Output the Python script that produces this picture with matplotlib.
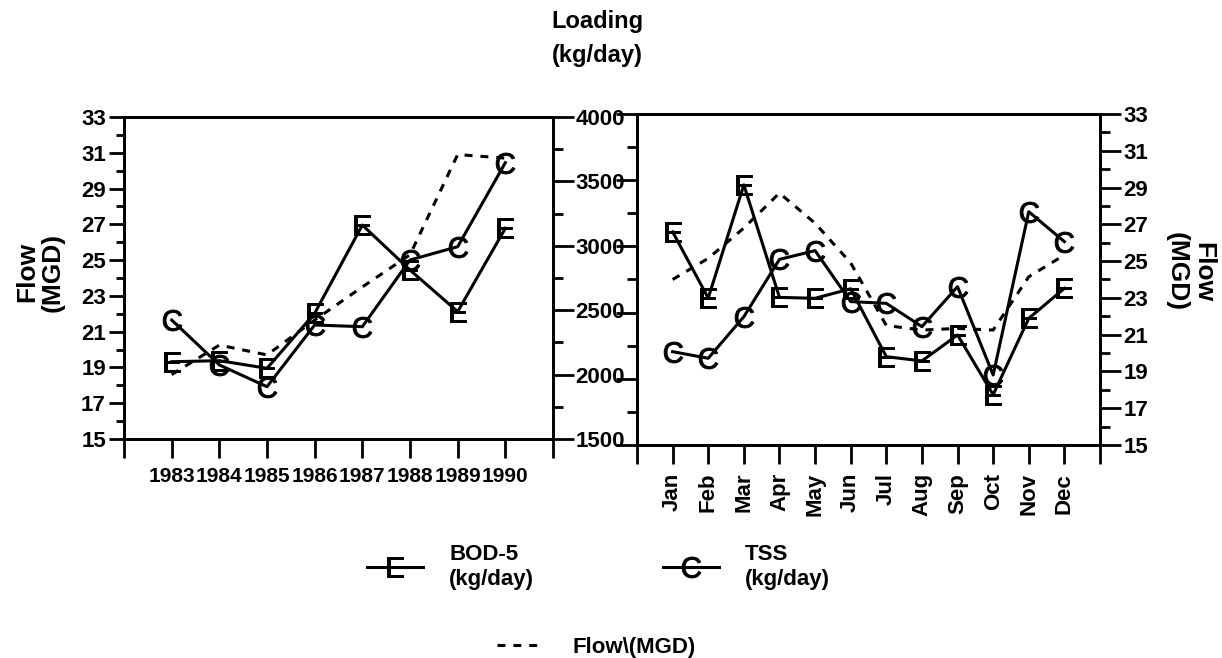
import numpy as np
import matplotlib
matplotlib.use('Agg')
import matplotlib.pyplot as plt
from matplotlib.ticker import MultipleLocator, FixedLocator, NullFormatter

plt.rcParams['font.family'] = ['Liberation Sans', 'DejaVu Sans']
plt.rcParams['font.weight'] = 'bold'
# thin letters for the E / C point markers
plt.rcParams['mathtext.fontset'] = 'custom'
plt.rcParams['mathtext.sf'] = 'Liberation Sans:weight=normal'

# yearly averages
years = [1983, 1984, 1985, 1986, 1987, 1988, 1989, 1990]
year_bod = [2100, 2108, 2049, 2476, 3161, 2812, 2489, 3136]     # kg/day
year_tss = [2424, 2075, 1906, 2385, 2372, 2890, 2993, 3645]     # kg/day
year_flow = [18.6, 20.25, 19.7, 21.65, 23.5, 25.3, 30.9, 30.7]  # MGD

# monthly averages
months = ['Jan', 'Feb', 'Mar', 'Apr', 'May', 'Jun',
          'Jul', 'Aug', 'Sep', 'Oct', 'Nov', 'Dec']
month_bod = [3110, 2610, 3465, 2615, 2608, 2680, 2167, 2135, 2331, 1880, 2457, 2683]
month_tss = [2205, 2155, 2469, 2902, 2968, 2583, 2570, 2394, 2696, 2029, 3262, 3036]
month_flow = [24.0, 25.15, 26.8, 28.7, 27.06, 24.9, 21.5, 21.25, 21.34, 21.25, 24.15, 25.33]

flow_lim = (15, 33)
load_lim = (1500, 4000)

lw = 2.2
dash = (0, (2.6, 2.6))
mk_e = r'$\mathsf{E}$'
mk_c = r'$\mathsf{C}$'
ms = 15
mew = 0.7
fs = 16

fig = plt.figure(figsize=(12.22, 6.58), dpi=100)

# ---- left panel: years ----
ax1 = fig.add_axes([124/1222, 1 - 439/658, 429/1222, 322/658])
ax1b = ax1.twinx()

ax1.plot(years, year_flow, color='black', lw=lw, ls=dash)
bod_line, = ax1b.plot(years, year_bod, color='black', lw=lw, marker=mk_e,
                      ms=ms, mew=mew)
tss_line, = ax1b.plot(years, year_tss, color='black', lw=lw, marker=mk_c,
                      ms=ms, mew=mew)

ax1.set_xlim(years[0] - 1, years[-1] + 1)
ax1.set_ylim(*flow_lim)
ax1b.set_ylim(*load_lim)
ax1.xaxis.set_major_locator(FixedLocator(np.arange(years[0] - 1, years[-1] + 2)))
ax1.set_xticklabels([''] + [str(y) for y in years] + [''])
ax1.yaxis.set_major_locator(MultipleLocator(2, offset=1))
ax1.yaxis.set_minor_locator(MultipleLocator(2))
ax1b.yaxis.set_major_locator(MultipleLocator(500))
ax1b.yaxis.set_minor_locator(MultipleLocator(250))

ax1.tick_params(axis='x', direction='out', length=14, width=2, labelsize=fs - 1, pad=6)
ax1.tick_params(axis='y', which='major', direction='out', length=11, width=2, labelsize=fs, pad=2)
ax1.tick_params(axis='y', which='minor', direction='out', length=6, width=2)
ax1b.tick_params(axis='y', which='major', direction='out', length=15, width=2, labelsize=fs, pad=1)
ax1b.tick_params(axis='y', which='minor', direction='out', length=7, width=2)

# ---- right panel: months ----
ax2 = fig.add_axes([637/1222, 1 - 445/658, 463/1222, 331/658])
ax2b = ax2.twinx()
mx = np.arange(1, len(months) + 1)

ax2b.plot(mx, month_flow, color='black', lw=lw, ls=dash)
ax2.plot(mx, month_bod, color='black', lw=lw, marker=mk_e, ms=ms, mew=mew)
ax2.plot(mx, month_tss, color='black', lw=lw, marker=mk_c, ms=ms, mew=mew)

ax2.set_xlim(0, len(months) + 1)
ax2.set_ylim(*load_lim)
ax2b.set_ylim(*flow_lim)
ax2.xaxis.set_major_locator(FixedLocator(np.arange(0, len(months) + 2)))
ax2.set_xticklabels([''] + months + [''], rotation=90)
ax2.yaxis.set_major_locator(MultipleLocator(500))
ax2.yaxis.set_minor_locator(MultipleLocator(250))
ax2.yaxis.set_major_formatter(NullFormatter())
ax2b.yaxis.set_major_locator(MultipleLocator(2, offset=1))
ax2b.yaxis.set_minor_locator(MultipleLocator(2))

ax2.tick_params(axis='x', direction='out', length=14, width=2, labelsize=fs, pad=6)
ax2.tick_params(axis='y', which='major', direction='out', length=15, width=2)
ax2.tick_params(axis='y', which='minor', direction='out', length=7, width=2)
ax2b.tick_params(axis='y', which='major', direction='out', length=15, width=2, labelsize=fs, pad=2)
ax2b.tick_params(axis='y', which='minor', direction='out', length=7, width=2)

for a in (ax1, ax1b, ax2, ax2b):
    for s in a.spines.values():
        s.set_linewidth(2)

# ---- titles / axis labels ----
fig.text(597/1222, 1 - 10/658, 'Loading\n(kg/day)', ha='center', va='top',
         fontsize=fs + 1, fontweight='bold', linespacing=1.6)
fig.text(40/1222, 1 - 272/658, 'Flow\n(MGD)', ha='center', va='center',
         rotation=90, fontsize=fs + 3, fontweight='bold', linespacing=1.1)
fig.text(1190/1222, 1 - 272/658, 'Flow\n(MGD)', ha='center', va='center',
         rotation=270, fontsize=fs + 3, fontweight='bold', linespacing=1.1)

# ---- legend ----
flow_handle = plt.Line2D([], [], color='black', lw=lw, ls=dash)
leg_kw = dict(frameon=False, loc='center left', borderpad=0, borderaxespad=0,
              fontsize=fs)
fig.legend([bod_line], ['BOD-5\n(kg/day)'], bbox_to_anchor=(367/1222, 1 - 567/658),
           handlelength=2.5, handletextpad=1.2, **leg_kw)
fig.legend([tss_line], ['TSS\n(kg/day)'], bbox_to_anchor=(663/1222, 1 - 567/658),
           handlelength=2.5, handletextpad=1.2, **leg_kw)
fig.legend([flow_handle], ['Flow\\(MGD)'], bbox_to_anchor=(497/1222, 1 - 647/658),
           handlelength=1.8, handletextpad=1.6, **leg_kw)

fig.savefig('out.png', dpi=100)
